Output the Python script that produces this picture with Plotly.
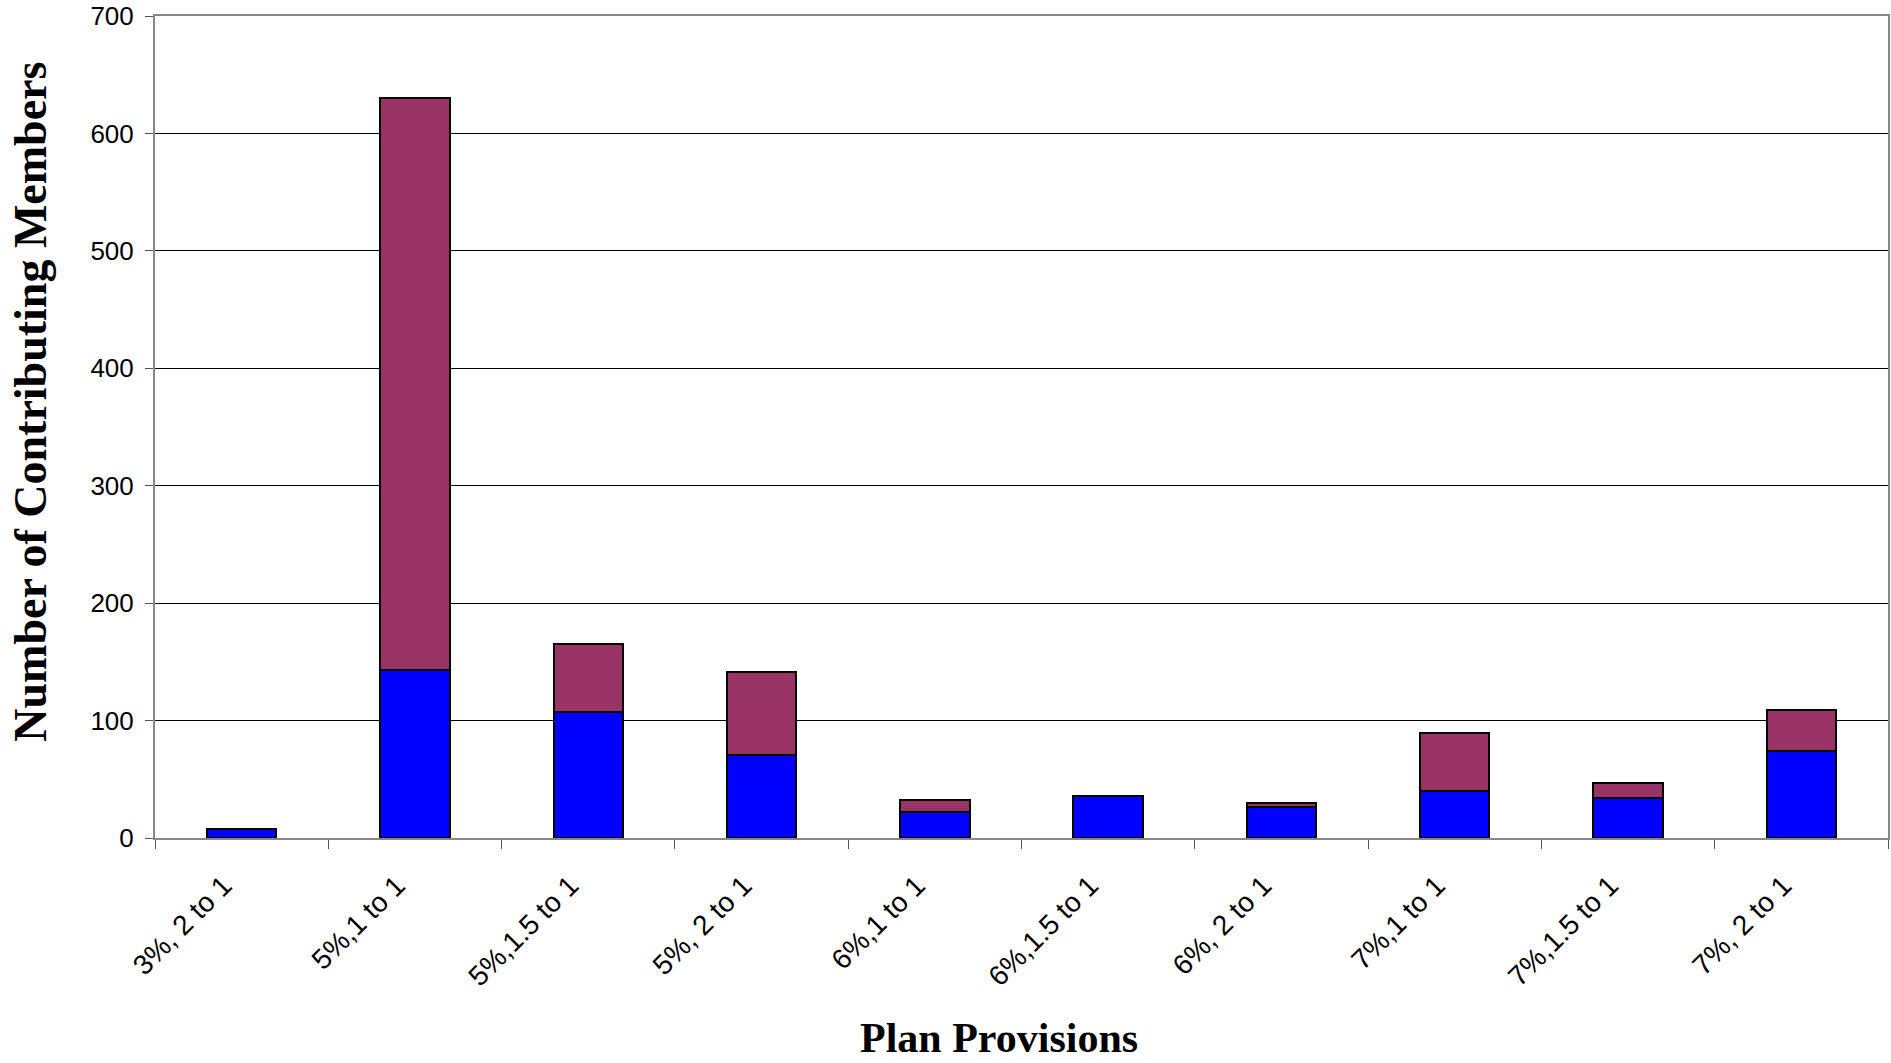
import plotly.graph_objects as go

# Plan provisions (employer match rate, match ratio)
categories = ["3%, 2 to 1", "5%,1 to 1", "5%,1.5 to 1", "5%, 2 to 1", "6%,1 to 1",
              "6%,1.5 to 1", "6%, 2 to 1", "7%,1 to 1", "7%,1.5 to 1", "7%, 2 to 1"]
lower_segment = [8, 143, 107, 71, 22, 36, 26, 40, 34, 74]
upper_segment = [0, 487, 58, 70, 10, 0, 4, 49, 13, 35]
y_ticks = [0, 100, 200, 300, 400, 500, 600, 700]

fig = go.Figure()
fig.add_trace(go.Bar(x=categories, y=lower_segment, marker=dict(color="#0000FF", line=dict(color="black", width=2))))
fig.add_trace(go.Bar(x=categories, y=upper_segment, marker=dict(color="#993366", line=dict(color="black", width=2))))

tick_font = dict(family="Liberation Sans, Arial", size=26, color="black")
title_font = "Liberation Serif, Times New Roman"

fig.update_layout(
    barmode="stack",
    bargap=0.6,
    showlegend=False,
    width=1891, height=1063,
    margin=dict(l=155, r=1, t=15, b=225),
    plot_bgcolor="white", paper_bgcolor="white",
    xaxis=dict(
        type="category", tickangle=-45, tickfont=dict(tick_font, size=28),
        tickson="boundaries", ticks="outside", ticklen=9, tickcolor="#555",
        ticklabelstandoff=18, ticklabelshift=-18,
        showline=True, linecolor="#888", linewidth=2, mirror=True,
        showgrid=False,
    ),
    yaxis=dict(
        range=[0, 700], tickvals=y_ticks, tickfont=tick_font,
        ticks="outside", ticklen=8, tickcolor="#555", ticklabelstandoff=6,
        showline=True, linecolor="#888", linewidth=2, mirror=True,
        showgrid=True, gridcolor="black", gridwidth=1, zeroline=False,
    ),
    annotations=[
        dict(text="<b>Number of Contributing Members</b>", xref="paper", yref="paper",
             x=-0.072, y=0.531, xanchor="center", yanchor="middle", textangle=-90,
             showarrow=False, font=dict(family=title_font, size=46, color="black")),
        dict(text="<b>Plan Provisions</b>", xref="paper", yref="paper",
             x=0.487, y=-0.243, xanchor="center", yanchor="middle",
             showarrow=False, font=dict(family=title_font, size=42, color="black")),
    ],
)

fig.write_html("out.html")
